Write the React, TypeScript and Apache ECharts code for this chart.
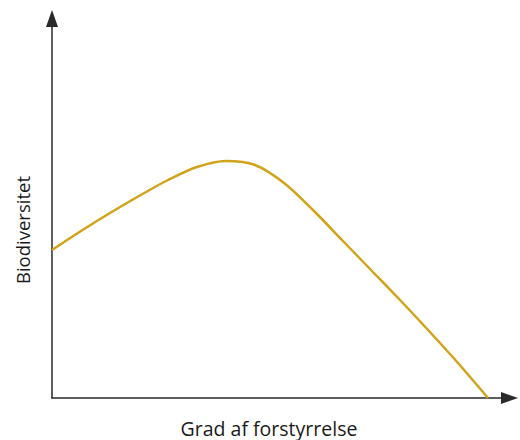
import React, { useEffect, useRef } from "react";
import * as echarts from "echarts";

const xValues = [0, 29, 58, 87, 116, 145, 174, 203, 232, 261, 290, 319, 348, 377, 406, 436];
const yValues = [148, 167, 185, 202, 218, 231, 237, 233, 215, 188, 158, 128, 98, 67, 35, 0];
const xTitle = "Grad af forstyrrelse";
const yTitle = "Biodiversitet";

export default function App() {
  const ref = useRef<HTMLDivElement>(null);
  useEffect(() => {
    if (!ref.current) return;
    const chart = echarts.init(ref.current, null, { renderer: "svg" });
    const axisCommon = {
      type: "value",
      min: 0,
      axisLine: {
        show: true,
        lineStyle: { color: "#2a2a2a", width: 1.5 },
        symbol: ["none", "triangle"],
        symbolSize: [12, 17],
      },
      axisTick: { show: false },
      axisLabel: { show: false },
      splitLine: { show: false },
    };
    chart.setOption({
      animation: false,
      backgroundColor: "#ffffff",
      grid: { left: 52, right: 10.5, top: 18.5, bottom: 42 },
      xAxis: { ...axisCommon, max: 457.5 },
      yAxis: { ...axisCommon, max: 379.5 },
      series: [
        {
          type: "line",
          data: xValues.map((x, i) => [x, yValues[i]]),
          smooth: 0.3,
          showSymbol: false,
          lineStyle: { color: "#D1A319", width: 2.5 },
        },
      ],
      graphic: [
        {
          type: "text",
          x: 269,
          y: 428,
          style: {
            text: xTitle,
            fontFamily: "Open Sans",
            fontSize: 19.5,
            fill: "#1a1a1a",
            align: "center",
            verticalAlign: "middle",
          },
        },
        {
          type: "text",
          x: 22,
          y: 230,
          rotation: Math.PI / 2,
          style: {
            text: yTitle,
            fontFamily: "Open Sans",
            fontSize: 18.5,
            fill: "#1a1a1a",
            align: "center",
            verticalAlign: "middle",
          },
        },
      ],
    });
    return () => chart.dispose();
  }, []);
  return (
    <div
      ref={ref}
      style={{ width: 520, height: 440, position: "fixed", left: 0, top: 0 }}
    />
  );
}
